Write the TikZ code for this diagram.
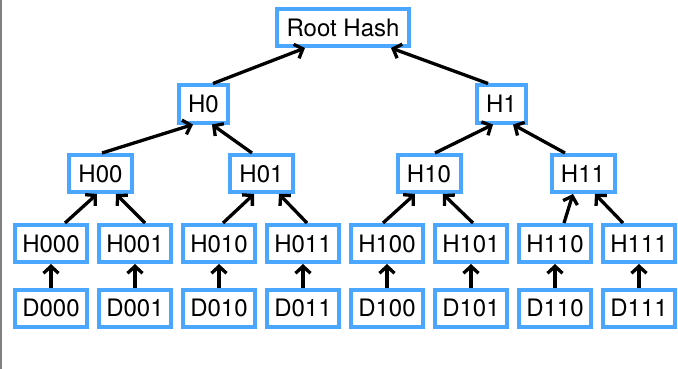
\documentclass[tikz,border=0pt]{standalone}
\usepackage{fontspec}
\setmainfont{TeX Gyre Heros}
\usetikzlibrary{arrows.meta}

\definecolor{hashblue}{RGB}{74,166,255}

\tikzset{
    hashbox/.style={draw=hashblue, line width=4pt, fill=white, inner sep=0pt,
        minimum height=37pt, font=\fontsize{24}{28}\selectfont},
    leafbox/.style={hashbox, minimum width=72pt},
    midbox/.style={hashbox, minimum width=63pt},
    topbox/.style={hashbox, minimum width=49pt},
    up/.style={-{Straight Barb[length=7pt,width=15pt]}, line width=3.3pt, black}
}

\begin{document}
\begin{tikzpicture}[x=1pt,y=-1pt]
    \useasboundingbox (0,0) rectangle (678,369);
    \draw[line width=2pt, gray] (1,0) -- (1,369);

    \node[hashbox, minimum width=132pt] (root) at (343,27.5) {Root Hash};

    \node[topbox] (h0) at (203.5,104) {H0};
    \node[topbox] (h1) at (501.5,104) {H1};

    \node[midbox] (h00) at (100.5,173.5) {H00};
    \node[midbox] (h01) at (261.5,173.5) {H01};
    \node[midbox] (h10) at (429,173.5) {H10};
    \node[midbox] (h11) at (583,173.5) {H11};

    \node[leafbox] (h000) at (51,243.5) {H000};
    \node[leafbox] (h001) at (135,243.5) {H001};
    \node[leafbox] (h010) at (219,243.5) {H010};
    \node[leafbox] (h011) at (303,243.5) {H011};
    \node[leafbox] (h100) at (387,243.5) {H100};
    \node[leafbox] (h101) at (471,243.5) {H101};
    \node[leafbox] (h110) at (555,243.5) {H110};
    \node[leafbox] (h111) at (639,243.5) {H111};

    \node[leafbox] (d000) at (51,308) {D000};
    \node[leafbox] (d001) at (135,308) {D001};
    \node[leafbox] (d010) at (219,308) {D010};
    \node[leafbox] (d011) at (303,308) {D011};
    \node[leafbox] (d100) at (387,308) {D100};
    \node[leafbox] (d101) at (471,308) {D101};
    \node[leafbox] (d110) at (555,308) {D110};
    \node[leafbox] (d111) at (639,308) {D111};

    % data to leaf hashes
    \draw[up] (d000.north) -- (h000.south);
    \draw[up] (d001.north) -- (h001.south);
    \draw[up] (d010.north) -- (h010.south);
    \draw[up] (d011.north) -- (h011.south);
    \draw[up] (d100.north) -- (h100.south);
    \draw[up] (d101.north) -- (h101.south);
    \draw[up] (d110.north) -- (h110.south);
    \draw[up] (d111.north) -- (h111.south);

    % leaf hashes to second level
    \draw[up] ([xshift=14pt]h000.north) -- ([xshift=-3.5pt]h00.south);
    \draw[up] ([xshift=10pt]h001.north) -- ([xshift=15.5pt]h00.south);
    \draw[up] ([xshift=4pt]h010.north) -- ([xshift=-7.5pt]h01.south);
    \draw[up] ([xshift=4pt]h011.north) -- ([xshift=17.5pt]h01.south);
    \draw[up] ([xshift=-4pt]h100.north) -- ([xshift=-14pt]h10.south);
    \draw[up] ([xshift=2pt]h101.north) -- ([xshift=14pt]h10.south);
    \draw[up] ([xshift=9pt]h110.north) -- ([xshift=-10pt]h11.south);
    \draw[up] ([xshift=-16pt]h111.north) -- ([xshift=12pt]h11.south);

    \draw[up] ([xshift=1.5pt]h00.north) -- ([xshift=-10.5pt]h0.south);
    \draw[up] ([xshift=-9.5pt]h01.north) -- ([xshift=8.5pt]h0.south);
    \draw[up] ([xshift=6pt]h10.north) -- ([xshift=-8.5pt]h1.south);
    \draw[up] ([xshift=-18pt]h11.north) -- ([xshift=11.5pt]h1.south);

    \draw[up] ([xshift=9.5pt]h0.north) -- ([xshift=-38pt]root.south);
    \draw[up] ([xshift=-13.5pt]h1.north) -- ([xshift=48pt]root.south);
\end{tikzpicture}
\end{document}
